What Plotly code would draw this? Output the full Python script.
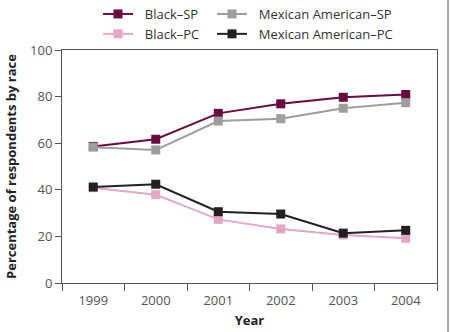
import plotly.graph_objects as go

# Survey years and share of respondents (%) for each group
years = ["1999", "2000", "2001", "2002", "2003", "2004"]
black_sp = [58.6, 61.7, 72.8, 76.9, 79.7, 80.9]
mexican_sp = [58.3, 57.1, 69.5, 70.5, 75.0, 77.4]
black_pc = [40.9, 37.9, 27.3, 23.2, 20.6, 19.2]
mexican_pc = [41.2, 42.4, 30.6, 29.6, 21.4, 22.6]

y_ticks = [0, 20, 40, 60, 80, 100]

FONT = "Open Sans"
AXIS_GREY = "#555555"
GAP = "\u00a0\u00a0"

series = [
    ("Black–SP", black_sp, "#6a0a40", "legend"),
    ("Black–PC", black_pc, "#e3a6c9", "legend"),
    ("Mexican American–SP", mexican_sp, "#9e9ea0", "legend2"),
    ("Mexican American–PC", mexican_pc, "#231f20", "legend2"),
]

fig = go.Figure()
for name, values, color, leg in series:
    fig.add_trace(go.Scatter(
        x=years, y=values, name=GAP + name, mode="lines+markers",
        line=dict(color=color, width=2),
        marker=dict(symbol="square", size=9, color=color),
        legend=leg,
    ))

W, H = 450, 332
ML, MR, MT, MB = 62, 13, 50, 49
pw, ph = W - ML - MR, H - MT - MB

def px_x(px):
    return (px - ML) / pw

def px_y(py):
    return (H - MB - py) / ph

legend_style = dict(
    orientation="v", xanchor="left", yanchor="top",
    font=dict(family=FONT, size=13, color="#333333"),
    bgcolor="rgba(0,0,0,0)", tracegroupgap=0, itemwidth=30,
)

fig.update_layout(
    width=W, height=H,
    margin=dict(l=ML, r=MR, t=MT, b=MB, autoexpand=False),
    paper_bgcolor="white", plot_bgcolor="white",
    font=dict(family=FONT, size=13, color=AXIS_GREY),
    legend=dict(x=px_x(98), y=px_y(-1), **legend_style),
    legend2=dict(x=px_x(212), y=px_y(-1), **legend_style),
    xaxis=dict(
        type="category", range=[-0.5, 5.5],
        showline=True, linecolor=AXIS_GREY, linewidth=1, mirror=True,
        ticks="outside", tickson="boundaries", ticklen=7, tickcolor=AXIS_GREY,
        ticklabelstandoff=5,
        showgrid=False, zeroline=False,
        tickfont=dict(family=FONT, size=13, color=AXIS_GREY),
        title=dict(text="<b>Year</b>", standoff=8,
                   font=dict(family=FONT, size=13, color="#222222")),
    ),
    yaxis=dict(
        range=[0, 100], tickvals=y_ticks,
        showline=True, linecolor=AXIS_GREY, linewidth=1, mirror=True,
        ticks="outside", ticklen=6, tickcolor=AXIS_GREY,
        showgrid=False, zeroline=False,
        tickfont=dict(family=FONT, size=13, color=AXIS_GREY),
        title=dict(text="<b>Percentage of respondents by race</b>", standoff=10,
                   font=dict(family=FONT, size=13, color="#222222")),
    ),
    shapes=[dict(type="line", xref="paper", yref="paper",
                 x0=px_x(448), x1=px_x(448), y0=px_y(0), y1=px_y(H),
                 line=dict(color=AXIS_GREY, width=1))],
)

fig.write_html("out.html")
